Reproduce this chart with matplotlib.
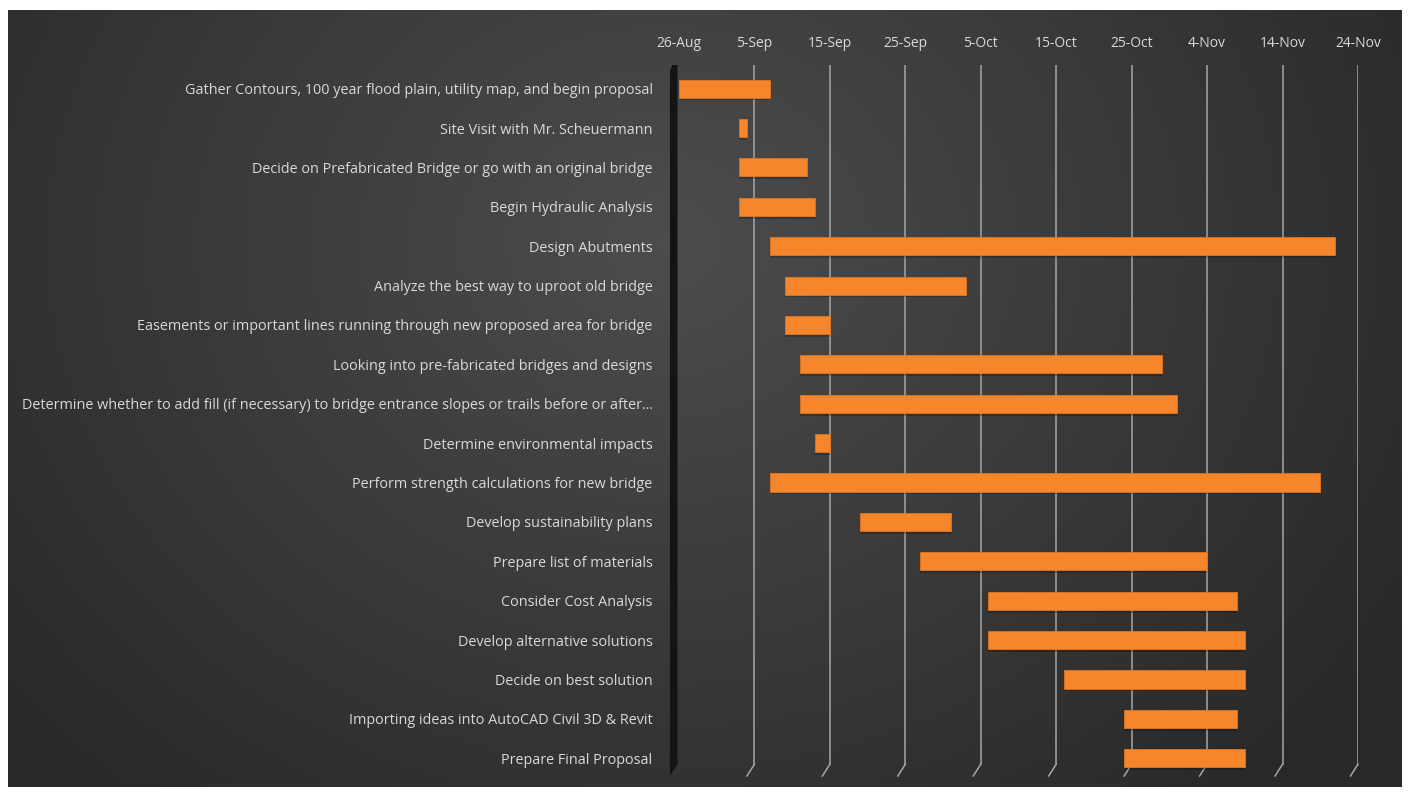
"""
Gantt chart of the bridge design project, dark background, orange bars
"""

import datetime as dt
import numpy as np
import matplotlib
matplotlib.use("Agg")
import matplotlib.pyplot as plt
import matplotlib.dates as mdates
from matplotlib.patches import Polygon

##############################################################################
# data

tasks = [
    "Gather Contours, 100 year flood plain, utility map, and begin proposal",
    "Site Visit with Mr. Scheuermann",
    "Decide on Prefabricated Bridge or go with an original bridge",
    "Begin Hydraulic Analysis",
    "Design Abutments",
    "Analyze the best way to uproot old bridge",
    "Easements or important lines running through new proposed area for bridge",
    "Looking into pre-fabricated bridges and designs",
    "Determine whether to add fill (if necessary) to bridge entrance slopes or trails before or after\u2026",
    "Determine environmental impacts",
    "Perform strength calculations for new bridge",
    "Develop sustainability plans",
    "Prepare list of materials",
    "Consider Cost Analysis",
    "Develop alternative solutions",
    "Decide on best solution",
    "Importing ideas into AutoCAD Civil 3D & Revit",
    "Prepare Final Proposal",
]

start_dates = [
    "2016-08-26", "2016-09-03", "2016-09-03", "2016-09-03", "2016-09-07",
    "2016-09-09", "2016-09-09", "2016-09-11", "2016-09-11", "2016-09-13",
    "2016-09-07", "2016-09-19", "2016-09-27", "2016-10-06", "2016-10-06",
    "2016-10-16", "2016-10-24", "2016-10-24",
]

durations = [12, 1, 9, 10, 75, 24, 6, 48, 50, 2, 73, 12, 38, 33, 34, 24, 15, 16]

axis_start = "2016-08-26"
axis_end = "2016-11-24"
tick_step_days = 10

##############################################################################

W, H = 1411, 797
fig = plt.figure(figsize=(W / 100, H / 100), dpi=100)
fig.patch.set_facecolor("white")

# dark gradient panel behind everything
bg = fig.add_axes([8 / W, 10 / H, (1402 - 8) / W, (787 - 10) / H])
bg.set_axis_off()
gx, gy = np.meshgrid(np.linspace(0, 1, 400), np.linspace(0, 1, 240))
r = np.sqrt(((gx - 0.47) / 0.62) ** 2 + ((gy - 0.30) / 0.95) ** 2)
shade = 0.30 - 0.14 * np.clip(r, 0, 1)
bg.imshow(np.dstack([shade] * 3), aspect="auto", extent=(0, 1, 1, 0),
          interpolation="bicubic")
bg.set_xlim(0, 1)
bg.set_ylim(1, 0)

ax = fig.add_axes([679 / W, 1 - 778 / H, (1358 - 679) / W, (778 - 65) / H])
ax.set_facecolor("none")

starts = [mdates.date2num(dt.date.fromisoformat(s)) for s in start_dates]
x0 = mdates.date2num(dt.date.fromisoformat(axis_start))
x1 = mdates.date2num(dt.date.fromisoformat(axis_end))
ypos = np.arange(len(tasks))

# gridlines with little perspective feet at the bottom
ticks = np.arange(x0, x1 + 0.5, tick_step_days)
for t in ticks[1:]:
    ax.plot([t, t], [-0.6, 17.15], color="#a6a6a6", lw=1.1, zorder=1)
    ax.plot([t, t - 1.0], [17.15, 17.45], color="#a6a6a6", lw=1.1, zorder=1,
            clip_on=False)

# black 3d-ish axis wall on the left
wall = Polygon([[x0 - 1.2, -0.45], [x0 - 0.9, -0.6], [x0 - 0.2, -0.6],
                [x0 - 0.2, 17.15], [x0 - 1.2, 17.45]],
               closed=True, facecolor="#141414", edgecolor="none",
               zorder=2, clip_on=False)
ax.add_patch(wall)

# bars: soft shadow, then the orange body
ax.barh(ypos + 0.07, durations, left=starts, height=0.46,
        color="#000000", alpha=0.22, zorder=3)
ax.barh(ypos, durations, left=starts, height=0.46,
        color="#f5862c", edgecolor="#e0761f", linewidth=0.6, zorder=4)

ax.set_xlim(x0, x1)
ax.set_ylim(17.5, -0.6)

ax.xaxis.tick_top()
ax.set_xticks(ticks)
ax.set_xticklabels([f"{mdates.num2date(t).day}-{mdates.num2date(t).strftime('%b')}"
                    for t in ticks])
ax.set_yticks(ypos)
ax.set_yticklabels(tasks)

font = "Open Sans"
ax.tick_params(axis="x", length=0, pad=10, labelsize=10, labelcolor="#d9d9d9")
ax.tick_params(axis="y", length=0, pad=19, labelsize=10.4, labelcolor="#d9d9d9")
for lab in ax.get_xticklabels() + ax.get_yticklabels():
    lab.set_family(font)

for s in ax.spines.values():
    s.set_visible(False)

fig.savefig("out.png", dpi=100, facecolor=fig.get_facecolor())
